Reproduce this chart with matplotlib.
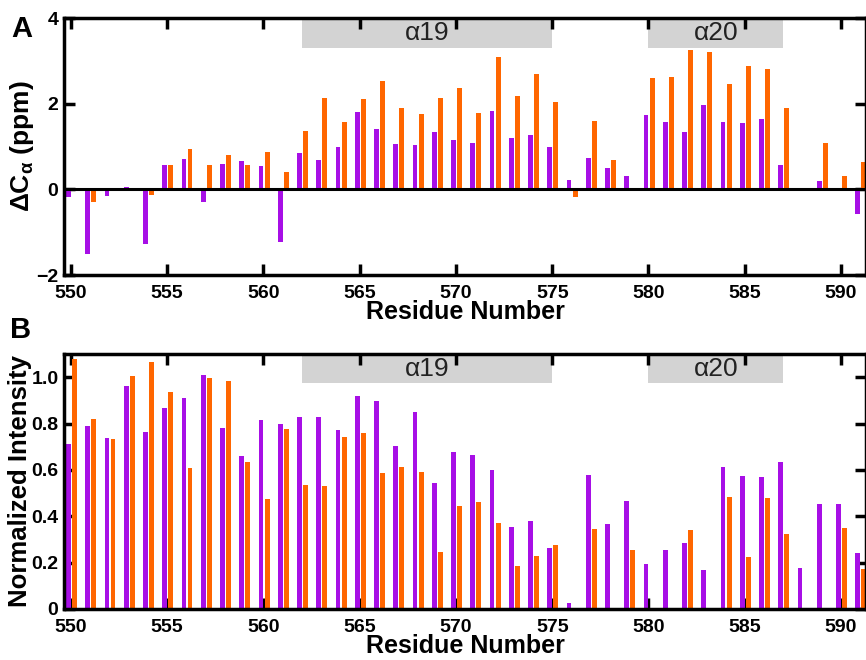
import numpy as np
import matplotlib
matplotlib.use("Agg")
import matplotlib.pyplot as plt
import matplotlib.transforms as mtransforms

plt.rcParams['font.family'] = ['Liberation Sans', 'DejaVu Sans']
plt.rcParams['font.weight'] = 'bold'
plt.rcParams['mathtext.default'] = 'regular'

nan = np.nan
residues = np.arange(550, 592)

# panel A: delta C-alpha (ppm)
dca_purple = [-0.19, -1.50, -0.15, 0.06, -1.28, 0.57, 0.71, -0.29, 0.60, 0.67,
              0.54, -1.22, 0.85, 0.68, 0.98, 1.80, 1.40, 1.05, 1.03, 1.34,
              1.16, 1.08, 1.82, 1.19, 1.28, 1.00, 0.21, 0.73, 0.50, 0.31,
              1.73, 1.57, 1.34, 1.96, 1.57, 1.55, 1.64, 0.57, -0.05, 0.19,
              -0.05, -0.58]
dca_orange = [nan, -0.29, nan, nan, -0.13, 0.57, 0.95, 0.57, 0.81, 0.57,
              0.87, 0.40, 1.37, 2.13, 1.57, 2.11, 2.54, 1.91, 1.76, 2.14,
              2.36, 1.79, 3.08, 2.17, 2.70, 2.03, -0.17, 1.60, 0.68, nan,
              2.59, 2.63, 3.26, 3.21, 2.45, 2.87, 2.80, 1.90, nan, 1.09,
              0.31, 0.64]

# panel B: normalized intensity
int_purple = [0.713, 0.789, 0.737, 0.960, 0.763, 0.869, 0.908, 1.009, 0.779, 0.658,
              0.816, 0.800, 0.826, 0.828, 0.774, 0.920, 0.898, 0.703, 0.849, 0.542,
              0.677, 0.665, 0.599, 0.353, 0.379, 0.264, 0.026, 0.578, 0.366, 0.466,
              0.194, 0.254, 0.284, 0.170, 0.611, 0.575, 0.569, 0.635, 0.178, 0.454,
              0.453, 0.240]
int_orange = [1.080, 0.818, 0.734, 1.003, 1.067, 0.934, 0.609, 0.997, 0.984, 0.632,
              0.474, 0.777, 0.536, 0.529, 0.743, 0.757, 0.585, 0.612, 0.591, 0.247,
              0.445, 0.463, 0.369, 0.187, 0.230, 0.277, nan, 0.346, nan, 0.254,
              nan, nan, 0.339, nan, 0.483, 0.226, 0.478, 0.323, nan, nan,
              0.351, 0.172]

helices = [(562, 575, 'α19'), (580, 587, 'α20')]

purple = '#A70FE6'
orange = '#FF6600'

fig = plt.figure(figsize=(8.66, 6.6), dpi=100)
axA = fig.add_axes([0.0739, 0.5833, 0.9261, 0.3894])
axB = fig.add_axes([0.0739, 0.0773, 0.9261, 0.3864])

w = 0.25
for ax, yp, yo in [(axA, dca_purple, dca_orange), (axB, int_purple, int_orange)]:
    ax.bar(residues - 0.13, yp, width=w, color=purple, zorder=2)
    ax.bar(residues + 0.19, yo, width=w, color=orange, zorder=2)
    ax.set_xlim(549.64, 591.3)
    ax.set_xticks(np.arange(550, 595, 5))
    ax.tick_params(direction='in', length=8, width=2.5, top=True, right=True,
                   labelsize=14, pad=4)
    ax.tick_params(axis='x', pad=7)
    for s in ax.spines.values():
        s.set_linewidth(2.5)
        s.set_zorder(5)
    ax.set_xlabel('Residue Number', fontsize=18, fontweight='bold', labelpad=-1)
    trans = mtransforms.blended_transform_factory(ax.transData, ax.transAxes)
    for x0, x1, name in helices:
        ax.add_patch(plt.Rectangle((x0, 0.885), x1 - x0, 0.115, transform=trans,
                                   color='#D3D3D3', zorder=1, lw=0))
        ax.text((x0 + x1) / 2, 0.94, name, transform=trans, ha='center', va='center',
                fontsize=19, fontweight='normal', color='#222222', zorder=3)

axA.set_ylim(-2, 4)
axA.set_yticks([-2, 0, 2, 4])
axA.axhline(0, color='black', lw=2.2, zorder=3)
axA.set_ylabel('ΔC$_{α}$ (ppm)', fontsize=19, fontweight='bold')
axA.yaxis.set_label_coords(-0.035, 0.5)

axB.set_ylim(0, 1.1)
axB.set_yticks([0, 0.2, 0.4, 0.6, 0.8, 1.0])
axB.set_yticklabels(['0', '0.2', '0.4', '0.6', '0.8', '1.0'])
axB.set_ylabel('Normalized Intensity', fontsize=18.5, fontweight='bold')
axB.yaxis.set_label_coords(-0.040, 0.5)

fig.text(0.013, 0.956, 'A', fontsize=21, fontweight='bold', va='center')
fig.text(0.012, 0.500, 'B', fontsize=21, fontweight='bold', va='center')

fig.savefig('out.png', dpi=100)
